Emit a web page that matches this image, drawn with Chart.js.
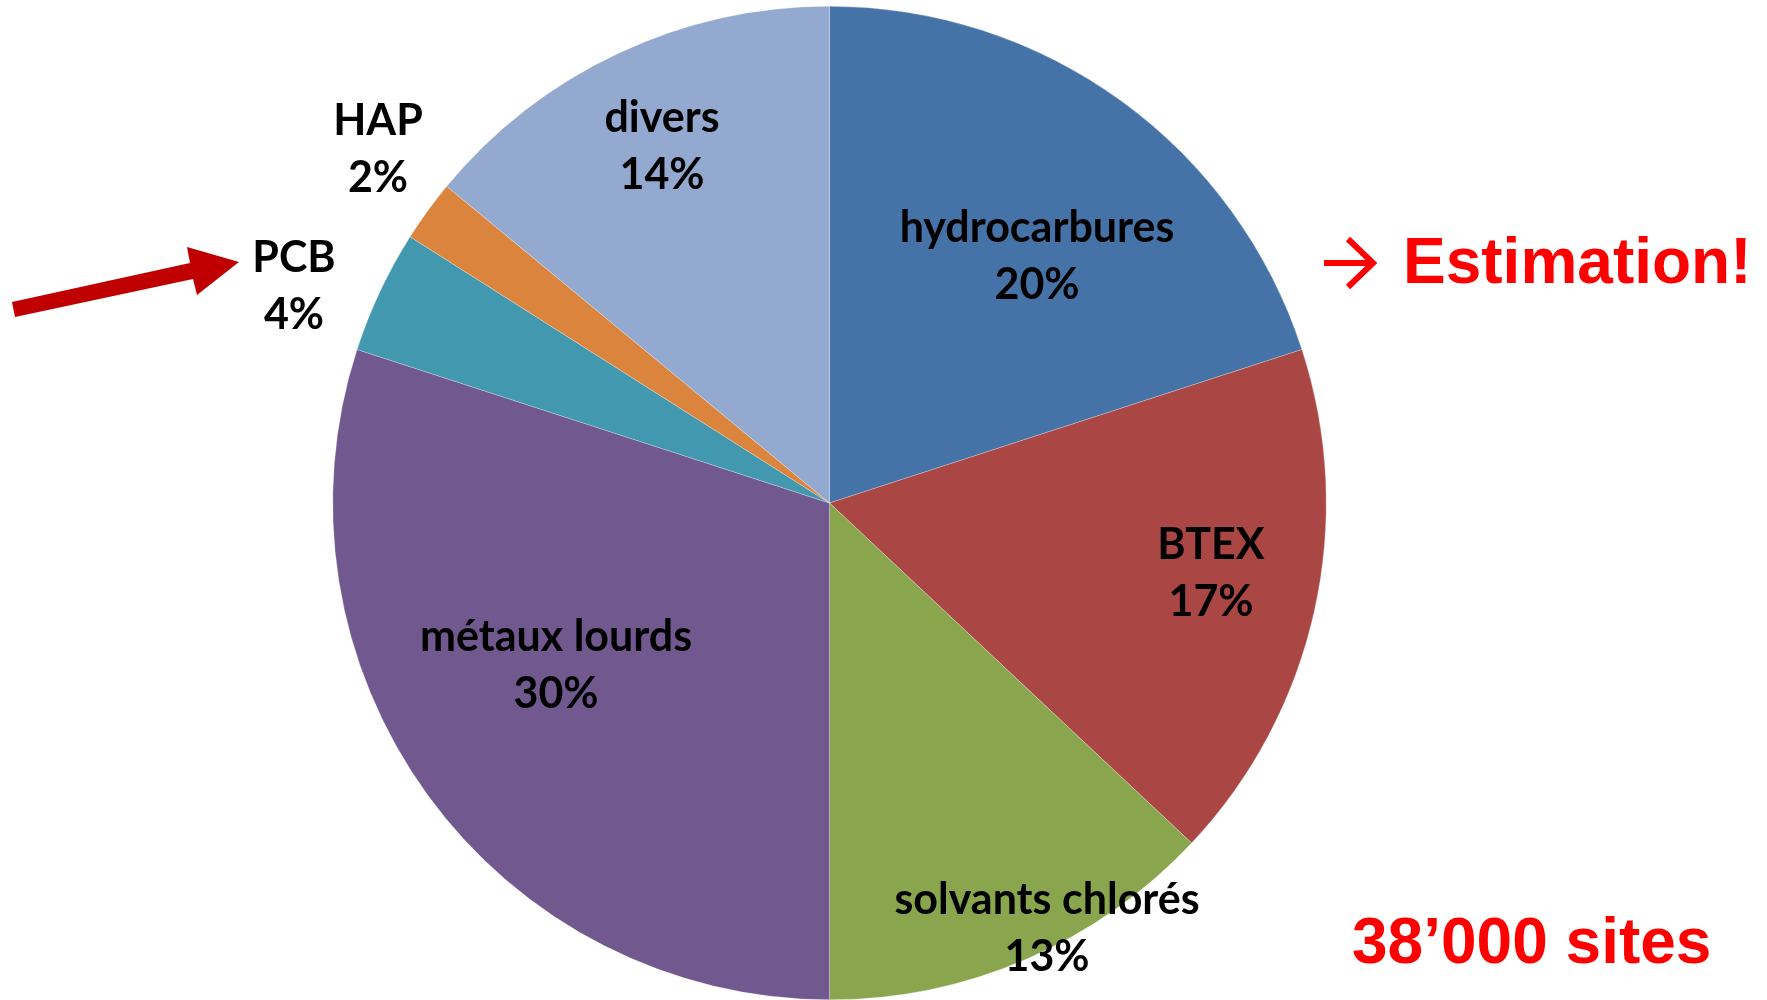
<!DOCTYPE html>
<html><head><meta charset="utf-8">
<script src="https://cdn.jsdelivr.net/npm/chart.js@4.4.1/dist/chart.umd.min.js"></script>
<style>html,body{margin:0;padding:0;background:#fff;}#wrap{width:1767px;height:1000px;position:relative;}</style>
</head><body><div id="wrap"><canvas id="c" width="1767" height="1000"></canvas></div>
<script>
const categories = ["hydrocarbures","BTEX","solvants chlorés","métaux lourds","PCB","HAP","divers"];
const values = [20,17,13,30,4,2,14];
const colors = ["#4572A7","#AA4643","#89A54E","#71588F","#4198AF","#DB843D","#93A9CF"];
const noteTop = "Estimation!";
const noteBottom = "38\u2019000 sites";

// label anchor positions (page px), styling only
const labelPos = [[1037,228],[1211,545],[1047,900],[556,637],[294,258],[378,121],[662,118]];

const labelPlugin = {
  id:'labels',
  afterDraw(chart){
    const ctx = chart.ctx;
    const total = values.reduce((a,b)=>a+b,0);
    ctx.save();
    ctx.fillStyle = '#000';
    ctx.textAlign = 'center';
    ctx.textBaseline = 'middle';
    ctx.font = 'bold 43px Lato, "Open Sans", sans-serif';
    categories.forEach((c,i)=>{
      const [x,y] = labelPos[i];
      ctx.fillText(c, x, y);
      ctx.fillText(Math.round(values[i]/total*100)+'%', x, y+57);
    });
    // red notes
    ctx.fillStyle = '#FF0000';
    ctx.textAlign = 'left';
    ctx.textBaseline = 'alphabetic';
    ctx.font = 'bold 64px "Liberation Sans", Arial, sans-serif';
    ctx.fillText(noteTop, 1403, 283);
    ctx.fillText(noteBottom, 1352, 963);
    // small arrow before Estimation
    ctx.strokeStyle = '#FF0000';
    ctx.lineWidth = 6;
    ctx.lineCap = 'butt';
    ctx.beginPath();
    ctx.moveTo(1324, 263); ctx.lineTo(1374, 263);
    ctx.moveTo(1348, 239); ctx.lineTo(1373, 263); ctx.lineTo(1348, 287);
    ctx.stroke();
    // big dark red arrow pointing to PCB
    ctx.fillStyle = '#C00000';
    ctx.beginPath();
    ctx.moveTo(12, 302);
    ctx.lineTo(190, 263);
    ctx.lineTo(187, 247);
    ctx.lineTo(239, 262);
    ctx.lineTo(197, 295);
    ctx.lineTo(193, 279);
    ctx.lineTo(15, 317);
    ctx.closePath();
    ctx.fill();
    ctx.restore();
  }
};

new Chart(document.getElementById('c'), {
  type:'pie',
  data:{labels:categories, datasets:[{data:values, backgroundColor:colors, borderColor:'rgba(255,255,255,0.5)', borderWidth:0.5}]},
  options:{
    responsive:false, animation:false,
    layout:{padding:{left:332, right:440, top:6, bottom:0}},
    plugins:{legend:{display:false}, tooltip:{enabled:false}}
  },
  plugins:[labelPlugin]
});
</script></body></html>
